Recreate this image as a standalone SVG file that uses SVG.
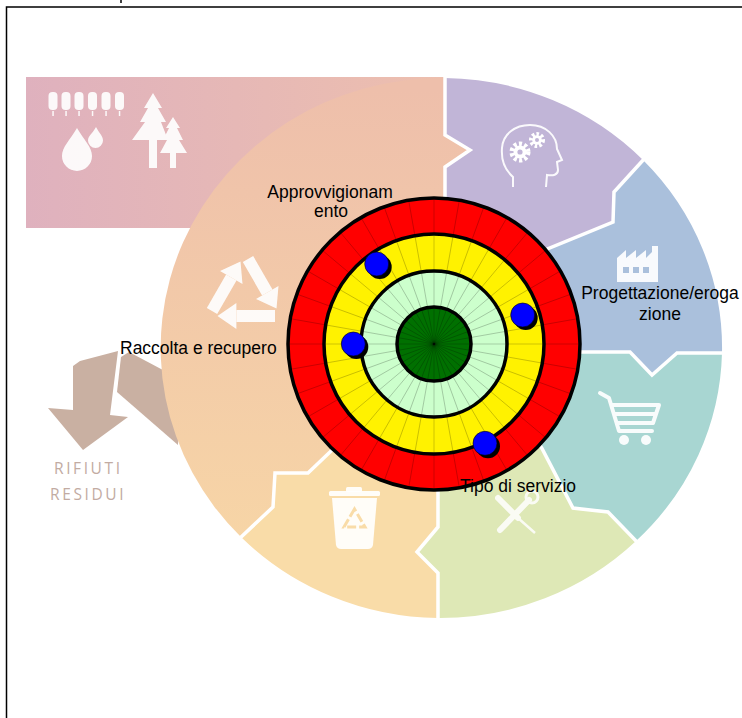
<svg xmlns="http://www.w3.org/2000/svg" width="742" height="718" viewBox="0 0 742 718">
<defs>
<style>
.lbl{font-family:"Liberation Sans",Arial,sans-serif;font-size:17.5px;fill:#000}
.seam{fill:none;stroke:#fff;stroke-width:3.5;stroke-linejoin:miter}
.ico{fill:#fff;opacity:0.92}
.icoS{fill:none;stroke:#fff;opacity:0.92}
.ring{fill:none;stroke:#000;stroke-width:3.5}
.dot{fill:#0000ff;stroke:#000;stroke-width:0.6}
.shadow{fill:#000}
.waste{font-family:"Open Sans","DejaVu Sans",sans-serif;font-size:15.5px;letter-spacing:2.6px;fill:#c2aba2}
</style>
<linearGradient id="gRect" x1="0" x2="1" y1="0" y2="0">
<stop offset="0" stop-color="#dfb1be"/>
<stop offset="1" stop-color="#edbfae"/>
</linearGradient>
<linearGradient id="gPeach" gradientUnits="userSpaceOnUse" x1="0" y1="90" x2="0" y2="540">
<stop offset="0" stop-color="#eebfab"/>
<stop offset="1" stop-color="#f7d5a6"/>
</linearGradient>
<line id="spk" x1="434" y1="198" x2="434" y2="490" stroke="#000" stroke-opacity="0.28" stroke-width="0.7"/>
</defs>

<rect width="742" height="718" fill="#fff"/>
<path d="M742,7 H6.5 V718" fill="none" stroke="#000" stroke-width="1.5"/>
<line x1="121" y1="0" x2="121" y2="3" stroke="#000" stroke-width="1.5"/>

<g id="background">
<rect x="26" y="77" width="420" height="151" fill="url(#gRect)"/>
<polygon points="73,366 80,361 118,351 110,415 128,417 83,450 48,408 73,410" fill="#c9b0a2"/>
<polygon points="121,357 129,352 178,378 178,445 117,392" fill="#c9b0a2"/>
<text class="waste" x="54" y="474">RIFIUTI</text>
<text class="waste" x="50" y="500">RESIDUI</text>

<path id="seg-peach" d="M434,344 L350,432 L330,452 L308,473 L275,473 L273,507 L241,537 A281 270 0 0 1 445,78 L445,135 L470,150 L445,167 L445,205 Z" fill="url(#gPeach)"/>
<path id="seg-purple" d="M434,344 L445,205 L445,167 L470,150 L445,135 L445,78 A281 270 0 0 1 643,160 L614,192 L613,222 L530,256 Z" fill="#c1b5d7"/>
<path id="seg-blue" d="M434,344 L530,256 L613,222 L614,192 L643,160 A281 270 0 0 1 722,353 L677,353 L652,375 L630,352 L570,352 Z" fill="#aac0dc"/>
<path id="seg-teal" d="M434,344 L570,352 L630,352 L652,375 L677,353 L722,353 A281 270 0 0 1 636,541 L608,512 L573,508 L541.7,448 L530,430 Z" fill="#a8d6d2"/>
<path id="seg-green" d="M434,344 L530,430 L541.7,448 L573,508 L608,512 L636,541 A281 270 0 0 1 438,618 L438,573 L417,552 L438,527 L438,470 Z" fill="#dee8b6"/>
<path id="seg-orange" d="M434,344 L438,470 L438,527 L417,552 L438,573 L438,618 A281 270 0 0 1 241,537 L273,507 L275,473 L308,473 L330,452 L350,432 Z" fill="#f9dca8"/>

<g id="seams">
<polyline class="seam" points="445,205 445,167 470,150 445,135 445,76"/>
<polyline class="seam" points="530,256 613,222 614,192 645,158"/>
<polyline class="seam" points="570,352 630,352 652,375 677,353 724,353"/>
<polyline class="seam" points="530,430 541.7,448 573,508 608,512 638,543"/>
<polyline class="seam" points="438,470 438,527 417,552 438,573 438,620"/>
<polyline class="seam" points="350,432 330,452 308,473 275,473 273,507 239,539"/>
</g>

<g id="icons">
<g class="ico">
<rect x="48.5" y="92" width="9" height="18" rx="4"/>
<rect x="61.5" y="92" width="9" height="18" rx="4"/>
<rect x="74.5" y="92" width="9" height="18" rx="4"/>
<rect x="88" y="92" width="9" height="18" rx="4"/>
<rect x="101.5" y="92" width="9" height="18" rx="4"/>
<rect x="115" y="92" width="9" height="18" rx="4"/>
<rect x="52.3" y="111" width="1.5" height="5"/>
<rect x="65.3" y="111" width="1.5" height="5"/>
<rect x="78.3" y="111" width="1.5" height="5"/>
<rect x="91.8" y="111" width="1.5" height="5"/>
<rect x="105.3" y="111" width="1.5" height="5"/>
<rect x="118.8" y="111" width="1.5" height="5"/>
<path d="M77,128 C70,140 62,147 62,156 A15 15 0 0 0 92,156 C92,147 84,140 77,128 Z"/>
<path d="M96,127 C93,133 88,136 88,140.5 A7.5 7.5 0 0 0 103,140.5 C103,136 99,133 96,127 Z"/>
<polygon points="153,93 162,108 158,108 166,122 161,122 168,140 157,140 157,168 149,168 149,140 132,140 145,122 140,122 148,108 144,108"/>
<polygon points="173,117 180,128 177,128 183,140 179,140 187,153 176,153 176,168 170,168 170,153 160,153 167,140 163,140 169,128 166,128"/>
</g>
<g id="recycle" fill="#fff" stroke="#fff" opacity="0.92">
<line x1="248" y1="259" x2="267.3" y2="292.4" stroke-width="12"/>
<polygon points="278.5,286 256,299 276.5,308.5" stroke="none"/>
<line x1="275" y1="316" x2="236.4" y2="316" stroke-width="12"/>
<polygon points="236.4,303 236.4,329 217.5,316" stroke="none"/>
<line x1="212" y1="311" x2="231.3" y2="277.6" stroke-width="12"/>
<polygon points="242.5,284 220,271 240.5,261.5" stroke="none"/>
</g>
<g id="head">
<path class="icoS" stroke-width="2" d="M513,187 L513,177 C505,170 501,160 502,148 C503,134 515,125 530,125 C546,125 557,136 557,149 L562,160 L557,162 L558,170 C558,175 553,176 547,175 L546,187"/>
<circle cx="520" cy="152" r="8" fill="none" stroke="#fff" stroke-width="5" stroke-dasharray="3 2.2"/>
<circle cx="520" cy="152" r="6.5" fill="#fff"/>
<circle cx="520" cy="152" r="2.6" fill="#c1b5d7"/>
<circle cx="537" cy="140" r="6" fill="none" stroke="#fff" stroke-width="4" stroke-dasharray="2.5 2"/>
<circle cx="537" cy="140" r="4.8" fill="#fff"/>
<circle cx="537" cy="140" r="2" fill="#c1b5d7"/>
</g>
<g id="factory">
<polygon class="ico" points="617,282 617,258 626,250 626,258 636,250 636,258 646,250 646,258 652,252 652,246 658,246 658,282"/>
<rect x="623" y="267" width="6" height="6" fill="#aac0dc"/>
<rect x="633" y="267" width="6" height="6" fill="#aac0dc"/>
<rect x="643" y="267" width="6" height="6" fill="#aac0dc"/>
</g>
<g id="cart">
<path class="icoS" stroke-width="4" stroke-linecap="round" stroke-linejoin="round" d="M600,393 L609,398 L619,431 L652,431 M612,405 H659 L653,423 M615,414 H656 M617,423 H653"/>
<circle class="ico" cx="624" cy="440" r="5"/>
<circle class="ico" cx="646" cy="440" r="5"/>
</g>
<g id="tools" opacity="0.85">
<line x1="500" y1="530" x2="529" y2="500" stroke="#fff" stroke-width="6" stroke-linecap="round"/>
<circle cx="532" cy="497" r="6" fill="none" stroke="#fff" stroke-width="3"/>
<line x1="498" y1="498" x2="518" y2="518" stroke="#fff" stroke-width="6" stroke-linecap="round"/>
<line x1="518" y1="518" x2="535" y2="533" stroke="#fff" stroke-width="2.5"/>
</g>
<g id="bin">
<rect class="ico" x="329" y="491" width="51" height="5" rx="1.5"/>
<rect class="ico" x="346" y="487" width="16" height="5" rx="1.5"/>
<path class="ico" d="M332,498 H377 L373,545 Q372,549 368,549 H341 Q337,549 336,545 Z"/>
<polygon points="354.5,509 344,527 365,527" fill="none" stroke="#f9dca8" stroke-width="3" stroke-dasharray="9 3"/>
</g>
</g>
</g>

<g id="target">
<circle cx="434" cy="344" r="146" fill="#ff0000"/>
<circle cx="434" cy="344" r="110" fill="#fff200"/>
<circle cx="434" cy="344" r="73" fill="#ccffcc"/>
<circle cx="434" cy="344" r="37" fill="#007000"/>
<g id="spokes">
<use href="#spk"/>
<use href="#spk" transform="rotate(10 434 344)"/>
<use href="#spk" transform="rotate(20 434 344)"/>
<use href="#spk" transform="rotate(30 434 344)"/>
<use href="#spk" transform="rotate(40 434 344)"/>
<use href="#spk" transform="rotate(50 434 344)"/>
<use href="#spk" transform="rotate(60 434 344)"/>
<use href="#spk" transform="rotate(70 434 344)"/>
<use href="#spk" transform="rotate(80 434 344)"/>
<use href="#spk" transform="rotate(90 434 344)"/>
<use href="#spk" transform="rotate(100 434 344)"/>
<use href="#spk" transform="rotate(110 434 344)"/>
<use href="#spk" transform="rotate(120 434 344)"/>
<use href="#spk" transform="rotate(130 434 344)"/>
<use href="#spk" transform="rotate(140 434 344)"/>
<use href="#spk" transform="rotate(150 434 344)"/>
<use href="#spk" transform="rotate(160 434 344)"/>
<use href="#spk" transform="rotate(170 434 344)"/>
</g>
<circle class="ring" cx="434" cy="344" r="146"/>
<circle class="ring" cx="434" cy="344" r="110"/>
<circle class="ring" cx="434" cy="344" r="73"/>
<circle class="ring" cx="434" cy="344" r="37"/>
</g>

<g id="markers">
<g id="dot1"><circle class="shadow" cx="379.7" cy="267" r="12"/><circle class="dot" cx="376.7" cy="264" r="12"/></g>
<g id="dot2"><circle class="shadow" cx="525.7" cy="318" r="12"/><circle class="dot" cx="522.7" cy="315" r="12"/></g>
<g id="dot3"><circle class="shadow" cx="356.3" cy="347" r="12"/><circle class="dot" cx="353.3" cy="344" r="12"/></g>
<g id="dot4"><circle class="shadow" cx="488" cy="446.3" r="12"/><circle class="dot" cx="485" cy="443.3" r="12"/></g>
</g>

<g id="labels">
<g id="lbl-approvvigionamento"><text class="lbl" text-anchor="middle" x="330" y="197.5">Approvvigionam</text><text class="lbl" text-anchor="middle" x="331" y="217">ento</text></g>
<g id="lbl-progettazione"><text class="lbl" text-anchor="middle" x="660" y="298.5">Progettazione/eroga</text><text class="lbl" text-anchor="middle" x="660" y="319.5">zione</text></g>
<g id="lbl-raccolta"><text class="lbl" x="120" y="353.5">Raccolta e recupero</text></g>
<g id="lbl-tipo"><text class="lbl" x="460" y="491.5">Tipo di servizio</text></g>
</g>
</svg>
